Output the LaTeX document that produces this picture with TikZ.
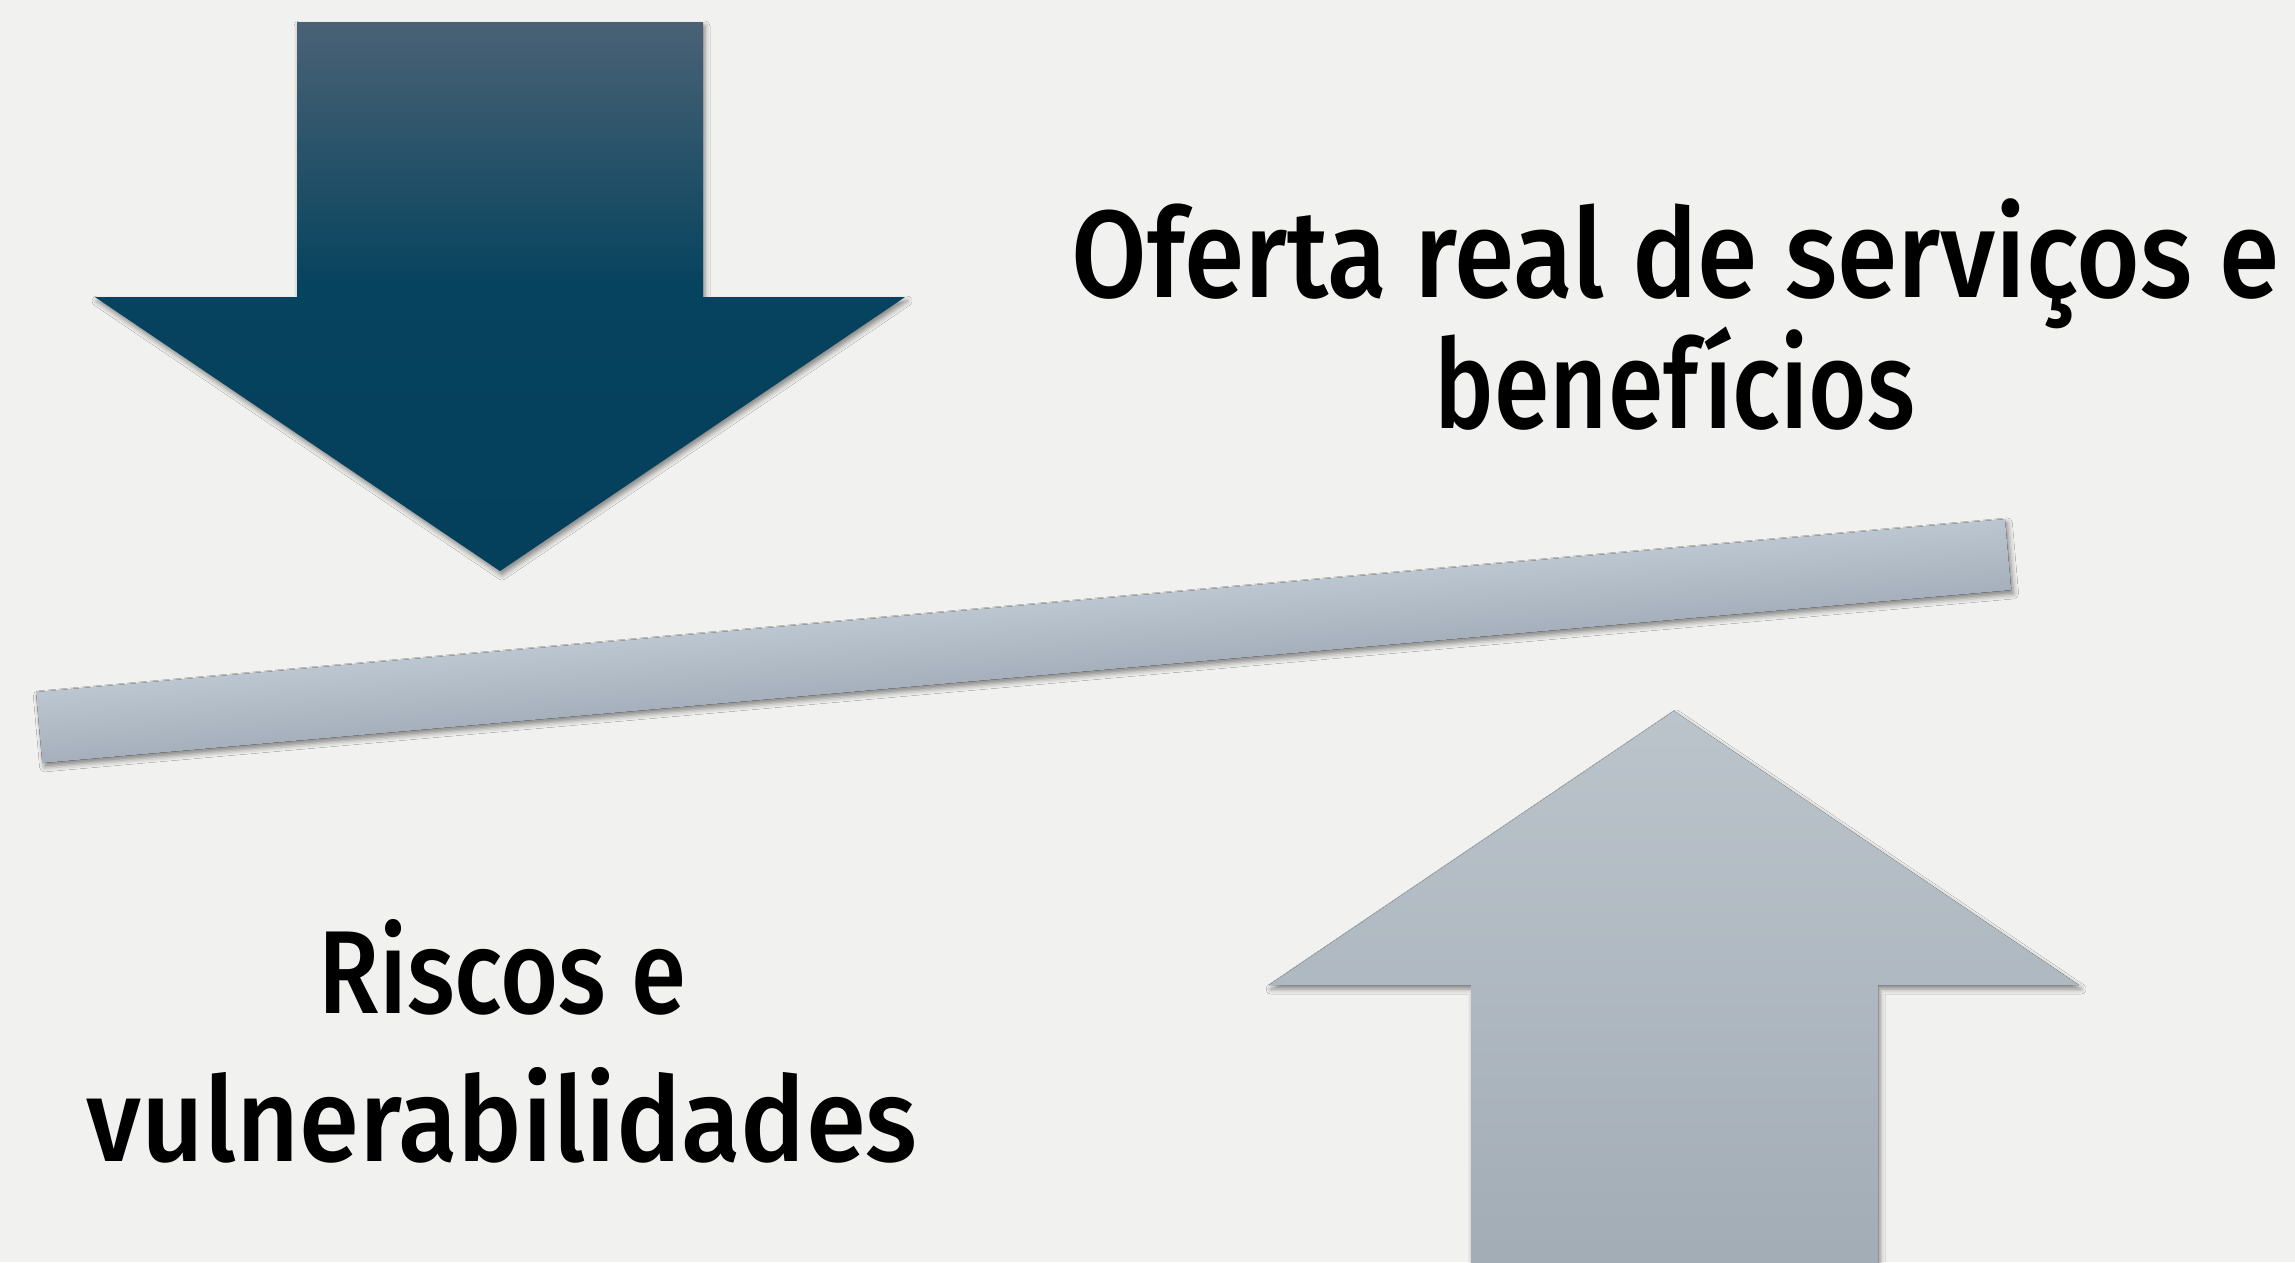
\documentclass[tikz,border=0pt]{standalone}
\usepackage{fontspec}
\setmainfont{Fira Sans}[UprightFont={* Medium}, BoldFont={* SemiBold}]
\usepackage{graphicx}
\usetikzlibrary{shadows.blur}
\definecolor{bg}{HTML}{F1F1EF}
\definecolor{dtop}{HTML}{4A6275}
\definecolor{dmid}{HTML}{06435E}
\definecolor{dbot}{HTML}{043F5B}
\definecolor{utop}{HTML}{BBC4CB}
\definecolor{umid}{HTML}{B5BFC7}
\definecolor{ubot}{HTML}{A2ACB5}
\definecolor{btop}{HTML}{BCC6D0}
\definecolor{bbot}{HTML}{A5B0BC}
\pgfdeclareverticalshading{darrow}{100bp}{color(0bp)=(dbot); color(25bp)=(dbot); color(51bp)=(dmid); color(75bp)=(dtop); color(100bp)=(dtop)}
\tikzset{
  shad/.style={blur shadow={shadow xshift=2pt, shadow yshift=-4pt, shadow blur radius=5pt, shadow opacity=45}},
  lbl/.style={inner sep=0pt, anchor=base, text=black, font=\fontsize{124}{131}\selectfont},
  lbl2/.style={inner sep=0pt, anchor=base, text=black, font=\fontsize{118}{131}\selectfont}
}
\begin{document}
\begin{tikzpicture}[x=1pt,y=-1pt]
\fill[bg] (0,0) rectangle (2295,1262);
\useasboundingbox (0,0) rectangle (2295,1262);
% down arrow
\path[shad, shading=darrow]
  (297,22) -- (703,22) -- (703,297) -- (905,297) -- (500,571) -- (95,297) -- (297,297) -- cycle;
% balance bar
\begin{scope}[transform canvas={rotate around={5.02:(36,692)}}]
\fill[shad, top color=btop, bottom color=bbot] (36,692) rectangle (2012.6,763.3);
\end{scope}
% up arrow
\fill[shad, top color=utop, middle color=umid, bottom color=ubot]
  (1471,1275) -- (1471,985) -- (1269,985) -- (1674,711) -- (2079,985) -- (1878,985) -- (1878,1275) -- cycle;
% texts
\node[lbl] (t1a) at (1676,297) {\resizebox{1208pt}{\height}{Oferta real de serviços e}};
\node[lbl] (t1b) at (1675,428) {\resizebox{481pt}{\height}{benefícios}};
\node[lbl2] (t2a) at (502,1013) {\resizebox{368pt}{\height}{Riscos e}};
\node[lbl2] (t2b) at (502,1161) {\resizebox{831pt}{\height}{vulnerabilidades}};
\end{tikzpicture}
\end{document}
